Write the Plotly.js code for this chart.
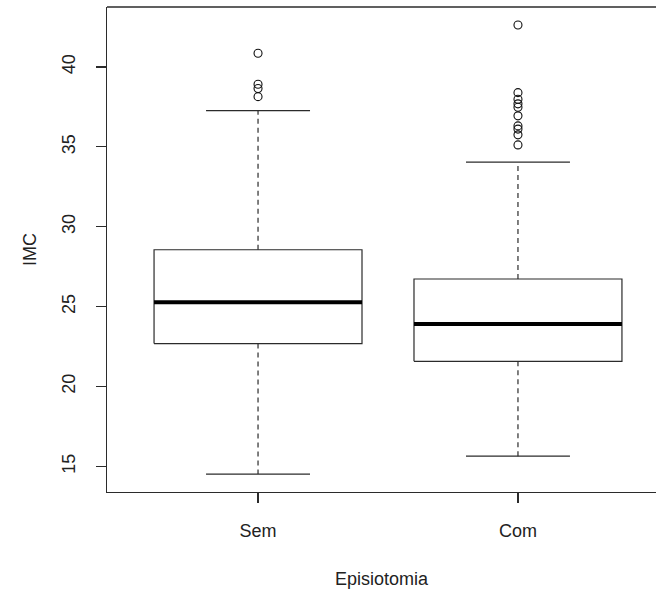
<!DOCTYPE html>
<html>
<head>
<meta charset="utf-8">
<script src="https://cdn.plot.ly/plotly-3.0.1.min.js"></script>
<style>
  html, body { margin: 0; padding: 0; background: #ffffff; }
  #chart { width: 656px; height: 596px; }
</style>
</head>
<body>
<div id="chart"></div>
<script>
// IMC by episiotomy group: five-number summaries and outliers
const categories = ["Sem", "Com"];
const lowerWhisker = [14.52, 15.64];
const q1 = [22.69, 21.58];
const median = [25.27, 23.92];
const q3 = [28.56, 26.73];
const upperWhisker = [37.27, 34.04];
const outliersSem = [40.86, 38.92, 38.65, 38.14];
const outliersCom = [42.62, 38.39, 37.98, 37.69, 37.48, 36.94, 36.31, 36.11, 35.75, 35.12];
const outliers = [outliersSem, outliersCom];

const ink = "#2b2b2b";
const boxHalf = 0.4;
const capHalf = 0.2;

const traces = [];
categories.forEach((cat, i) => {
  const x = i + 1;
  // box body
  traces.push({
    type: "scatter", mode: "lines", hoverinfo: "skip", showlegend: false,
    x: [x - boxHalf, x + boxHalf, x + boxHalf, x - boxHalf, x - boxHalf],
    y: [q1[i], q1[i], q3[i], q3[i], q1[i]],
    line: { color: ink, width: 1.2 }
  });
  // dashed whiskers
  traces.push({
    type: "scatter", mode: "lines", hoverinfo: "skip", showlegend: false,
    x: [x, x, null, x, x],
    y: [q3[i], upperWhisker[i], null, q1[i], lowerWhisker[i]],
    line: { color: ink, width: 1.2, dash: "5px,4px" }
  });
  // whisker caps
  traces.push({
    type: "scatter", mode: "lines", hoverinfo: "skip", showlegend: false,
    x: [x - capHalf, x + capHalf, null, x - capHalf, x + capHalf],
    y: [upperWhisker[i], upperWhisker[i], null, lowerWhisker[i], lowerWhisker[i]],
    line: { color: ink, width: 1.2 }
  });
  // median
  traces.push({
    type: "scatter", mode: "lines", hoverinfo: "skip", showlegend: false,
    x: [x - boxHalf, x + boxHalf],
    y: [median[i], median[i]],
    line: { color: "#000000", width: 4 }
  });
  // outliers
  traces.push({
    type: "scatter", mode: "markers", hoverinfo: "y", showlegend: false,
    x: outliers[i].map(() => x),
    y: outliers[i],
    marker: { symbol: "circle-open", size: 8, color: "#111111", line: { width: 1.1 } }
  });
});

const font = { family: "Liberation Sans, Arial, sans-serif", size: 18, color: "#222222" };

const layout = {
  width: 656, height: 596,
  margin: { l: 107, r: 0, t: 7, b: 104 },
  paper_bgcolor: "#ffffff", plot_bgcolor: "#ffffff",
  font: font,
  showlegend: false,
  xaxis: {
    range: [0.419, 2.531],
    tickvals: [1, 2], ticktext: categories,
    showgrid: false, zeroline: false,
    showline: true, linecolor: ink, linewidth: 1.3,
    ticks: "outside", ticklen: 10, tickcolor: ink, tickwidth: 1.2,
    ticklabelstandoff: 12,
    tickfont: font,
    title: { text: "Episiotomia", font: font, standoff: 32 }
  },
  yaxis: {
    range: [13.40, 43.75],
    tickvals: [15, 20, 25, 30, 35, 40],
    tickangle: -90,
    showgrid: false, zeroline: false,
    showline: true, linecolor: ink, linewidth: 1.3,
    ticks: "outside", ticklen: 10, tickcolor: ink, tickwidth: 1.2,
    ticklabelstandoff: 14,
    tickfont: font,
    title: { text: "IMC", font: font, standoff: 17 }
  },
  shapes: [{
    type: "line", xref: "paper", yref: "paper",
    x0: 0, x1: 1, y0: 1, y1: 1,
    line: { color: ink, width: 1.3 }
  }]
};

Plotly.newPlot("chart", traces, layout, { staticPlot: true, displayModeBar: false });
</script>
</body>
</html>
